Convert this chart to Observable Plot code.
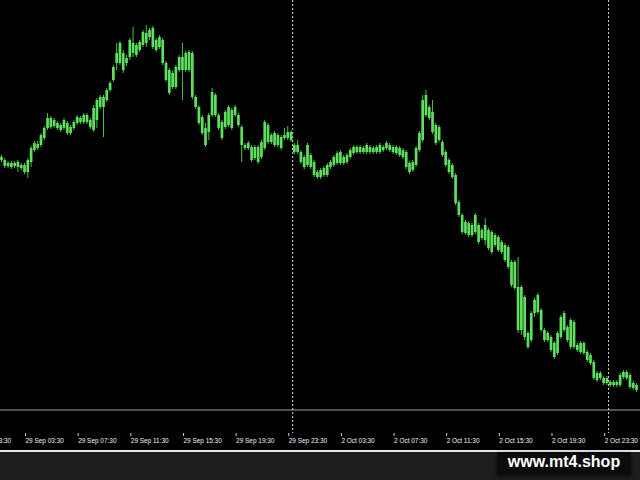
<!DOCTYPE html>
<html><head><meta charset="utf-8">
<script src="https://cdn.jsdelivr.net/npm/d3@7"></script>
<script src="https://cdn.jsdelivr.net/npm/@observablehq/plot@0.6"></script>
<style>
html,body{margin:0;padding:0;background:#1e1e1e;width:640px;height:480px;overflow:hidden;}
#chart{position:relative;width:640px;height:450px;background:#000;overflow:hidden;}
#strip{position:relative;width:640px;height:30px;background:#1e1e1e;border-top:2px solid #e6e6e6;box-sizing:border-box;}
#mark{position:absolute;left:497px;top:0px;width:134px;height:22px;background:#0b0b0b;box-shadow:0 2px 4px rgba(0,0,0,.7);color:#fff;font:bold 16px "Liberation Sans",Arial,sans-serif;text-align:center;line-height:20px;}
</style></head><body>
<div id="chart"></div><div id="strip"><div id="mark">www.mt4.shop</div></div>
<script>
// M15 bars, numbered from 29 Sep 03:30 = 0 (weekend gap removed as in MT4)
const firstBar = -7;
const opens = [
253,250,244,247,244,248,245,245,238,248,
260,266,265,272,282,292,284,287,285,282,
287,277,282,287,292,288,295,290,280,290,
303,313,310,320,330,347,347,357,347,353,
367,355,360,365,377,373,382,370,363,370,
347,340,323,323,340,353,340,358,357,313,
303,293,282,278,295,315,295,288,283,285,
300,295,295,283,265,262,263,252,263,253,
262,285,268,277,265,273,272,272,278,265,
258,258,253,245,255,248,238,233,235,235,
243,245,247,258,247,248,253,257,263,258,
262,258,263,262,258,258,263,262,265,263,
263,262,260,258,247,240,245,260,270,295,
303,298,285,270,268,258,250,245,235,208,
195,177,187,175,178,185,172,170,180,178,
165,173,168,165,163,148,148,123,80,113,
77,70,97,98,100,80,70,73,67,57,
73,80,83,63,88,65,58,67,58,55,
48,37,32,32,27,28,25,28,25,33,
38,35,27,25];
const closes = [
250,244,247,243,247,243,242,238,250,262,
267,262,275,282,292,283,290,282,280,290,
277,283,288,293,288,295,288,283,302,310,
313,303,320,327,343,357,367,340,352,370,
357,365,368,378,367,380,363,360,373,347,
330,317,337,343,353,340,357,340,313,303,
287,277,265,295,318,295,282,272,298,303,
282,303,285,265,262,267,250,263,248,268,
288,268,275,265,275,262,275,278,270,258,
265,248,243,265,243,235,233,240,242,245,
248,253,257,247,253,255,260,263,258,263,
258,265,258,258,263,265,260,267,260,258,
257,255,253,243,238,248,262,277,310,315,
292,278,267,283,255,245,238,233,207,195,
178,188,175,185,195,168,180,185,162,158,
175,160,158,150,143,125,122,80,123,73,
63,97,110,115,80,70,77,60,53,77,
93,97,70,90,63,60,67,57,50,47,
32,30,37,27,32,25,28,25,35,38,
32,23,22,20];
const highs = [
255,252,249,249,249,250,247,247,252,264,
269,269,277,284,297,294,292,289,287,292,
289,285,290,295,294,297,297,292,305,312,
315,315,322,329,345,367,369,360,355,372,
383,367,370,380,385,382,384,372,375,372,
349,342,339,345,355,367,359,360,359,315,
305,295,287,297,322,317,297,290,300,305,
302,305,297,285,267,269,265,265,265,270,
290,287,277,279,277,275,282,284,280,267,
270,260,255,267,257,250,240,242,244,247,
250,255,259,260,255,257,262,265,265,265,
264,267,265,264,265,267,265,269,267,265,
265,264,262,260,249,250,264,279,315,320,
305,310,287,285,270,260,252,247,237,210,
197,190,189,187,197,187,182,192,182,180,
177,175,170,167,165,150,150,153,125,115,
79,99,112,117,102,82,79,75,69,79,
95,99,85,92,90,67,69,69,60,57,
50,39,39,34,34,30,30,30,37,40,
40,37,29,27];
const lows = [
248,242,242,241,242,238,240,236,232,243,
258,260,263,270,280,281,282,280,278,280,
275,275,280,285,286,286,286,281,278,282,
301,273,308,318,328,340,345,337,344,350,
353,353,358,363,363,370,361,358,361,345,
328,315,321,321,338,310,338,338,311,301,
285,275,263,270,293,293,280,270,281,283,
280,293,283,248,260,260,248,250,246,251,
260,266,266,263,263,260,270,270,268,256,
256,246,241,243,241,233,231,231,233,233,
241,243,245,245,245,246,251,255,256,256,
256,256,256,256,256,256,258,260,258,256,
255,253,251,241,236,238,243,258,268,293,
290,276,265,268,253,243,236,231,205,193,
176,175,173,173,176,166,170,165,160,156,
163,158,156,148,141,123,120,77,75,70,
61,68,93,96,78,68,68,58,51,55,
71,78,68,61,61,58,56,55,48,45,
30,28,30,25,25,23,23,23,23,31,
30,21,20,18];
const tickBars = [-16, 0, 16, 32, 48, 64, 80, 96, 112, 128, 144, 160, 176];
const tickLabels = ["28 Sep 23:30","29 Sep 03:30","29 Sep 07:30","29 Sep 11:30","29 Sep 15:30","29 Sep 19:30","29 Sep 23:30",
  "2 Oct 03:30","2 Oct 07:30","2 Oct 11:30","2 Oct 15:30","2 Oct 19:30","2 Oct 23:30"];
const separatorBars = [81.5, 177.5];

const bars = opens.map((o, k) => ({bar: k + firstBar, open: o, high: highs[k], low: lows[k], close: closes[k]}));
const labelOf = new Map(tickBars.map((b, k) => [b, tickLabels[k]]));

const chart = Plot.plot({
  width: 640, height: 450,
  marginTop: 0, marginRight: 0, marginBottom: 17, marginLeft: 0,
  style: {background: "#000", fontFamily: "'Liberation Sans', Arial, sans-serif", fontSize: "7px"},
  x: {type: "linear", domain: [-7.3, 187.2]},
  y: {domain: [-23, 410], axis: null},
  marks: [
    Plot.ruleY([0], {stroke: "#a0a0a0", dy: -0.5}),
    Plot.ruleX(separatorBars, {stroke: "#d8d8d8", strokeDasharray: "2,2"}),
    Plot.ruleX(bars, {x: "bar", y1: "low", y2: "high", stroke: "#3fc43f", strokeWidth: 1}),
    Plot.ruleX(bars, {x: "bar", y1: "open", y2: "close", stroke: "#5ee05e", strokeWidth: 2.7}),
    Plot.axisX(tickBars, {tickFormat: d => labelOf.get(d), tickSize: 3, tickPadding: 2,
      textAnchor: "start", dx: 1, stroke: "#d0d0d0", fill: "#f4f4f4", label: null})
  ]
});
document.getElementById("chart").append(chart);
chart.querySelectorAll('g[aria-label="x-axis tick label"] text').forEach(t => {
  const w = t.getComputedTextLength();
  t.setAttribute("textLength", (w * 0.92).toFixed(1));
  t.setAttribute("lengthAdjust", "spacingAndGlyphs");
});
</script>
</body></html>
